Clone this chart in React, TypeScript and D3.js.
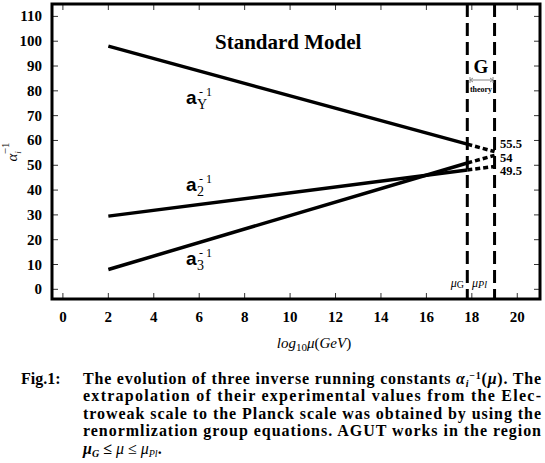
import * as d3 from "d3";

// log10 of the scale: start, mu_G, mu_Pl
const muPoints = [2, 17.8, 19];
// inverse couplings at those points
const invY = [98, 58.5, 55.5];
const inv2 = [29.5, 48.1, 49.5];
const inv3 = [8, 50.9, 54];
const endLabels = ["55.5", "54", "49.5"];
const seriesSubs = ["Y", "2", "3"];

const xTicks = d3.range(0, 21, 2);
const yTicks = d3.range(0, 111, 10);

const captionLines = [
  "extrapolation of their experimental values from the Elec-",
  "troweak scale to the Planck scale was obtained by using the",
  "renormlization group equations.  AGUT works in the region",
];

const W = 545;
const H = 463;
const serif = "'Liberation Serif', 'DejaVu Serif', serif";
const sans = "'Liberation Sans', Arial, sans-serif";

export default function App() {
  const left = 52, right = 540, top = 4, bottom = 299;
  const x = d3.scaleLinear().domain([-0.48, 21]).range([left, right]);
  const y = d3.scaleLinear().domain([-3.9, 115]).range([bottom, top]);

  const line = d3
    .line<number>()
    .x((_, i) => x(muPoints[i]))
    .y((d) => y(d));
  const ext = d3
    .line<number>()
    .x((_, j) => x(muPoints[j + 1]))
    .y((d) => y(d));

  const series = [invY, inv2, inv3];
  const labelY = [104, 191, 265];

  return (
    <svg
      width={W}
      height={H}
      style={{ position: "absolute", left: 0, top: 0, background: "#fff" }}
    >
      {/* ticks */}
      <g stroke="#333" strokeWidth={1}>
        {xTicks.map((t) => (
          <g key={"x" + t}>
            <line x1={x(t)} x2={x(t)} y1={bottom} y2={bottom - 6} />
            <line x1={x(t)} x2={x(t)} y1={top} y2={top + 6} />
          </g>
        ))}
        {yTicks.map((t) => (
          <g key={"y" + t}>
            <line x1={left} x2={left + 6} y1={y(t)} y2={y(t)} />
            <line x1={right} x2={right - 6} y1={y(t)} y2={y(t)} />
          </g>
        ))}
      </g>

      {/* tick labels */}
      <g fontFamily={serif} fontWeight="bold" fontSize={15}>
        {xTicks.map((t) => (
          <text key={t} x={x(t)} y={322} textAnchor="middle">
            {t}
          </text>
        ))}
        {yTicks.map((t) => (
          <text key={t} x={42} y={y(t) + 5} textAnchor="end">
            {t}
          </text>
        ))}
      </g>

      {/* vertical dashed lines mu_G and mu_Pl */}
      {[muPoints[1], muPoints[2]].map((m) => (
        <line
          key={m}
          x1={x(m)}
          x2={x(m)}
          y1={top}
          y2={bottom}
          stroke="#000"
          strokeWidth={3}
          strokeDasharray="13,6"
        />
      ))}

      {/* running lines */}
      {series.map((s, i) => (
        <g key={i} fill="none" stroke="#000" strokeWidth={3.5}>
          <path d={line(s.slice(0, 2))!} />
          <path d={ext(s.slice(1))!} strokeDasharray="5,3" />
        </g>
      ))}

      {/* end values */}
      <g fontFamily={serif} fontWeight="bold" fontSize={12.5}>
        {series.map((s, i) => (
          <text key={i} x={500} y={[148, 161.5, 175][i]}>
            {endLabels[i]}
          </text>
        ))}
      </g>

      {/* frame */}
      <rect
        x={left}
        y={top}
        width={right - left}
        height={bottom - top}
        fill="none"
        stroke="#000"
        strokeWidth={3}
      />

      <text x={215} y={49} fontFamily={serif} fontWeight="bold" fontSize={21}>
        Standard Model
      </text>

      {/* a^-1 labels */}
      {seriesSubs.map((sub, i) => (
        <g key={sub}>
          <text x={186} y={labelY[i]} fontFamily={sans} fontWeight="bold" fontSize={19}>
            a
          </text>
          <text x={197} y={labelY[i] + 5} fontFamily={serif} fontSize={14}>
            {sub}
          </text>
          <text x={199} y={labelY[i] - 8} fontFamily={serif} fontSize={12}>
            - 1
          </text>
        </g>
      ))}

      {/* G theory */}
      <text x={481} y={73} textAnchor="middle" fontFamily={serif} fontWeight="bold" fontSize={19}>
        G
      </text>
      <g stroke="#888" strokeWidth={1} fill="none">
        <line x1={470} x2={493} y1={80} y2={80} />
        <path d="M473,78 L470,80 L473,82" />
        <path d="M490,78 L493,80 L490,82" />
        <line x1={470} x2={470} y1={77} y2={83} />
        <line x1={493} x2={493} y1={77} y2={83} />
      </g>
      <text x={481} y={92} textAnchor="middle" fontFamily={serif} fontWeight="bold" fontSize={8}>
        theory
      </text>

      {/* mu labels */}
      <text x={464} y={287} textAnchor="end" fontFamily={serif} fontSize={12}>
        <tspan fontStyle="italic">μ</tspan>
        <tspan fontSize={10} dy={1}>G</tspan>
      </text>
      <text x={472} y={287} fontFamily={serif} fontSize={12} fontStyle="italic">
        μ<tspan fontSize={10} dy={1}>Pl</tspan>
      </text>

      {/* axis titles */}
      <text x={314} y={348} textAnchor="middle" fontFamily={serif} fontSize={15} fontStyle="italic">
        log<tspan fontStyle="normal" fontSize={11} dy={3}>10</tspan>
        <tspan dy={-3}>μ</tspan>
        <tspan fontStyle="normal">(</tspan>GeV<tspan fontStyle="normal">)</tspan>
      </text>
      <text
        transform="translate(17,152) rotate(-90)"
        textAnchor="middle"
        fontFamily={serif}
        fontSize={15}
        fontStyle="italic"
      >
        α<tspan fontSize={9} dy={4}>i</tspan>
        <tspan fontStyle="normal" fontSize={11} dx={-3} dy={-12}>−1</tspan>
      </text>

      {/* caption */}
      <g fontFamily={serif} fontWeight="bold" fontSize={16}>
        <text x={21} y={384}>Fig.1:</text>
        <text x={83} y={384} textLength={458} lengthAdjust="spacing">
          The evolution of three inverse running constants{" "}
          <tspan fontStyle="italic">α</tspan>
          <tspan fontSize={10} dy={3} fontStyle="italic">i</tspan>
          <tspan fontSize={10} dy={-8}>−1</tspan>
          <tspan dy={5}>(</tspan>
          <tspan fontStyle="italic">μ</tspan>). The
        </text>
        {captionLines.map((l, i) => (
          <text key={i} x={83} y={401 + i * 17.5} textLength={458} lengthAdjust="spacing">
            {l}
          </text>
        ))}
        <text x={83} y={454}>
          <tspan fontStyle="italic">μ</tspan>
          <tspan fontSize={10} dy={3} fontStyle="italic">G</tspan>
          <tspan dy={-3}> ≤ </tspan>
          <tspan fontStyle="italic" fontWeight="normal">μ</tspan>
          <tspan fontWeight="normal"> ≤ </tspan>
          <tspan fontStyle="italic" fontWeight="normal">μ</tspan>
          <tspan fontSize={10} dy={3} fontStyle="italic" fontWeight="normal">Pl</tspan>
          <tspan dy={-3}>.</tspan>
        </text>
      </g>
    </svg>
  );
}
